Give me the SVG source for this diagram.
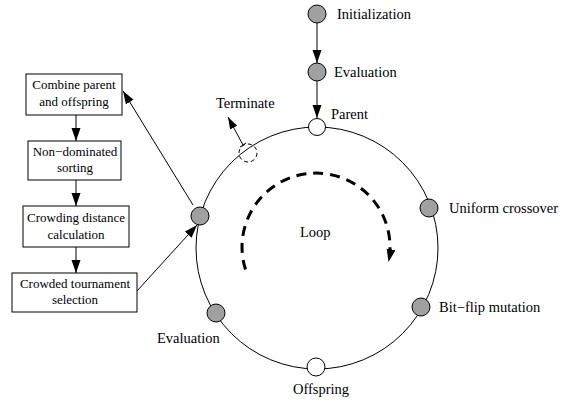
<svg xmlns="http://www.w3.org/2000/svg" width="562" height="403" viewBox="0 0 562 403">
<style>
text{font-family:"Liberation Serif","Times New Roman",serif;fill:#000}
.lbl{font-size:14.5px}
.bx{font-size:13px;text-anchor:middle}
.box{fill:#fff;stroke:#000;stroke-width:1}
.gn{fill:#a0a0a0;stroke:#000;stroke-width:1}
.wn{fill:#fff;stroke:#000;stroke-width:1}
.ln{fill:none;stroke:#000;stroke-width:1}
</style>
<defs>
<marker id="ah" markerUnits="userSpaceOnUse" markerWidth="14" markerHeight="10" refX="13" refY="4.5" orient="auto"><path d="M0,0 L13,4.5 L0,9 z" fill="#000"/></marker>
<marker id="ahs" markerUnits="userSpaceOnUse" markerWidth="14" markerHeight="10" refX="12" refY="4" orient="auto"><path d="M0,0 L12,4 L0,8 z" fill="#000"/></marker>
</defs>
<g id="main-loop">
<circle cx="317" cy="248" r="121" class="ln"/>
</g>
<g id="connectors">
<line x1="317" y1="23" x2="317" y2="63" class="ln" marker-end="url(#ah)"/>
<line x1="317" y1="81" x2="317" y2="118" class="ln" marker-end="url(#ah)"/>
<line x1="76" y1="115" x2="76" y2="141" class="ln" marker-end="url(#ah)"/>
<line x1="76" y1="180" x2="76" y2="206" class="ln" marker-end="url(#ah)"/>
<line x1="76" y1="247" x2="76" y2="273" class="ln" marker-end="url(#ah)"/>
<line x1="193" y1="205" x2="123" y2="91" class="ln" marker-end="url(#ah)"/>
<line x1="137" y1="291" x2="197" y2="225" class="ln" marker-end="url(#ah)"/>
<line x1="243" y1="145" x2="228" y2="117" class="ln" marker-end="url(#ahs)"/>
<line x1="240" y1="147" x2="246" y2="143" class="ln"/>
<path d="M245.5,269.5 A74,74 0 1,1 388.5,262" fill="none" stroke="#000" stroke-width="3" stroke-dasharray="10,7" marker-end="url(#ah)"/>
</g>
<g id="initialization"><circle cx="317" cy="14" r="9" class="gn"/><text x="337" y="19" class="lbl">Initialization</text></g>
<g id="evaluation-top"><circle cx="317" cy="72" r="9" class="gn"/><text x="334" y="77" class="lbl">Evaluation</text></g>
<g id="parent"><circle cx="317" cy="127" r="8.5" class="wn"/><text x="331" y="119" class="lbl">Parent</text></g>
<g id="terminate"><circle cx="248" cy="153" r="9" fill="none" stroke="#000" stroke-width="1" stroke-dasharray="4,3"/><text x="216" y="108" class="lbl">Terminate</text></g>
<g id="uniform-crossover"><circle cx="429" cy="208" r="9" class="gn"/><text x="449" y="213" class="lbl">Uniform crossover</text></g>
<g id="bit-flip-mutation"><circle cx="421" cy="307" r="9" class="gn"/><text x="439" y="312" class="lbl">Bit−flip mutation</text></g>
<g id="offspring"><circle cx="316" cy="367" r="9" class="wn"/><text x="321" y="394" class="lbl" text-anchor="middle">Offspring</text></g>
<g id="evaluation-left"><circle cx="216" cy="313" r="9" class="gn"/><text x="157" y="343" class="lbl">Evaluation</text></g>
<g id="selection-node"><circle cx="200" cy="216" r="9" class="gn"/></g>
<g id="loop-label"><text x="300" y="237" class="lbl">Loop</text></g>
<g id="box-combine"><rect x="26" y="74" width="96" height="41" class="box"/><text x="74" y="89" class="bx">Combine parent</text><text x="74" y="106" class="bx">and offspring</text></g>
<g id="box-sorting"><rect x="28" y="141" width="93" height="39" class="box"/><text x="75" y="156" class="bx">Non−dominated</text><text x="75" y="172" class="bx">sorting</text></g>
<g id="box-crowding"><rect x="23" y="206" width="106" height="41" class="box"/><text x="76" y="222" class="bx">Crowding distance</text><text x="76" y="239" class="bx">calculation</text></g>
<g id="box-tournament"><rect x="12" y="273" width="125" height="39" class="box"/><text x="75" y="288" class="bx">Crowded tournament</text><text x="75" y="304" class="bx">selection</text></g>
</svg>
